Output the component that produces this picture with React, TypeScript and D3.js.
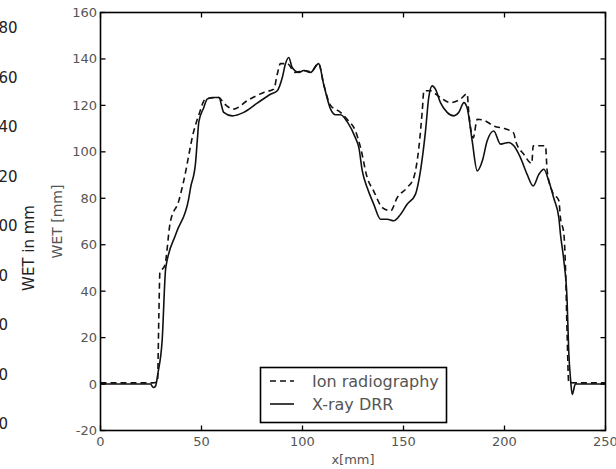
import React from "react";
import * as d3 from "d3";

// Water-equivalent thickness profiles along x
const xrayX = [0, 10, 20, 24.7, 26.2, 27.2, 28.5, 30.5, 32.3, 37.5, 43.7, 44.6, 47, 47.9, 48.7, 51.1, 52.8, 55.3, 58.6, 61, 65.2, 70.9, 77.6, 84.2, 87.5, 90, 91.6, 93.2, 94.9, 98.2, 100.6, 104, 108, 110.5, 113.9, 116.3, 118.8, 122.1, 126.2, 127.9, 129.6, 132, 135.3, 138.6, 141.9, 145.2, 148.5, 151.8, 155.9, 158.4, 160.9, 162.5, 164.2, 165.8, 168.3, 171.6, 174.9, 177.4, 179.9, 181.5, 184, 186.5, 189, 191.4, 194.7, 198, 202.1, 204.6, 207.9, 211.2, 214.2, 217, 219.5, 221.9, 224.4, 226.9, 227.7, 229.4, 231, 231.8, 232.7, 233.5, 235.1, 240, 250];
const xrayY = [0, 0, 0, 0, -1.5, -1, 5, 18.5, 50, 65, 80, 84.6, 94.8, 104.7, 113, 119, 122.7, 123.4, 123.4, 117, 115.5, 117, 121, 124.8, 126.3, 132, 138, 140.6, 136.3, 134.2, 135, 134.2, 138, 129, 118.4, 116, 116, 113, 106, 101.8, 91.8, 84.6, 77.4, 71, 71, 70.3, 73, 77.4, 81.7, 91.8, 109, 123.4, 128.4, 127, 121.2, 117, 115.5, 117, 121.2, 119, 104.7, 91.8, 96, 104.7, 109, 103.3, 104, 102.6, 97.5, 90.3, 85.3, 90.3, 92.5, 87.5, 80, 71.6, 64.6, 53, 35.8, 14, 2, -4.5, 0, 0, 0];

const ionX = [0, 10, 20, 25.7, 28.2, 28.9, 29.4, 31.8, 34.5, 38.8, 41.2, 46.2, 48.7, 52, 58.6, 61, 66, 72.6, 80.8, 85.8, 87.5, 89.1, 92.4, 96.5, 100.5, 104, 108, 110.5, 113.9, 118.8, 122.1, 126.2, 128.7, 132, 135.3, 139.5, 143.6, 146.9, 151.8, 155.1, 157.6, 159.3, 160.1, 163.4, 165.8, 168.3, 173.3, 178.2, 181.5, 182.3, 184.5, 186.5, 190, 195, 200, 204.6, 205.5, 209.5, 213.5, 214.2, 220.3, 221.1, 223.6, 226.9, 227.7, 229.4, 230.2, 231, 231.8, 240, 250];
const ionY = [0.5, 0.5, 0.5, 0.5, 1, 30, 48, 51, 69.5, 79, 87.5, 109, 116, 122.8, 123.4, 121, 118.4, 122, 125.6, 127, 133.4, 138, 138, 134.2, 135, 134.5, 138, 129, 120, 117, 114, 109, 102, 89, 83, 76, 74.6, 80.3, 84.6, 89, 101.8, 117.7, 126.3, 126.3, 125, 123.4, 121.2, 122.7, 125, 117, 106, 114, 113.5, 111, 110, 108, 104.7, 99, 95, 102.6, 102.6, 92, 83, 79, 71.6, 64.6, 50, 21.5, 0.6, 0.5, 0.5];

const xTicks = [0, 50, 100, 150, 200, 250];
const xTickLabels = ["0", "50", "100", "150", "200", "250"];
const yTicks = [-20, 0, 20, 40, 60, 80, 100, 120, 140, 160];
const yTickLabels = ["-20", "0", "20", "40", "60", "80", "100", "120", "140", "160"];

// Neighbouring panel's axis, partly cut off at the left edge
const sideTicks = [180, 160, 140, 120, 100, 80, 60, 40, 20];

const seriesNames = ["Ion radiography", "X-ray DRR"];

const FONT = "DejaVu Sans, sans-serif";

export default function App() {
  const W = 616;
  const H = 469;
  const left = 100.5, right = 605.5, top = 12.5, bottom = 430.5;

  const x = d3.scaleLinear().domain([0, 250]).range([left, right]);
  const y = d3.scaleLinear().domain([-20, 160]).range([bottom, top]);
  const ySide = d3.scaleLinear().domain([20, 180]).range([424, 28]);

  const line = d3
    .line<[number, number]>()
    .curve(d3.curveMonotoneX)
    .x((d) => x(d[0]))
    .y((d) => y(d[1]));

  const xray = line(xrayX.map((v, i) => [v, xrayY[i]] as [number, number])) || "";
  const ion = line(ionX.map((v, i) => [v, ionY[i]] as [number, number])) || "";

  const tickLen = 5;

  return (
    <svg
      width={W}
      height={H}
      style={{ position: "absolute", left: 0, top: 0, background: "#fff" }}
      fontFamily={FONT}
    >
      <rect width={W} height={H} fill="#fff" />

      {/* side panel remnants */}
      {sideTicks.map((t) => (
        <text key={t} x={-11} y={ySide(t)} fontSize={15} fill="#222" dominantBaseline="central">
          {t}
        </text>
      ))}
      <text
        transform="translate(29,248) rotate(-90)"
        textAnchor="middle"
        dominantBaseline="central"
        fontSize={15}
        fill="#222"
      >
        WET in mm
      </text>

      <defs>
        <clipPath id="plotClip">
          <rect x={left} y={top} width={right - left} height={bottom - top} />
        </clipPath>
      </defs>

      {/* curves */}
      <g clipPath="url(#plotClip)" fill="none">
        <path d={ion} stroke="#111" strokeWidth={1.6} strokeDasharray="6,4" />
        <path d={xray} stroke="#111" strokeWidth={1.6} />
      </g>

      {/* frame */}
      <rect x={left} y={top} width={right - left} height={bottom - top} fill="none" stroke="#000" strokeWidth={1.6} />

      {/* x ticks (inside, bottom and top) */}
      {xTicks.map((t, i) => (
        <g key={"x" + t}>
          <line x1={x(t)} x2={x(t)} y1={bottom} y2={bottom - tickLen} stroke="#000" strokeWidth={1.3} />
          <line x1={x(t)} x2={x(t)} y1={top} y2={top + tickLen} stroke="#000" strokeWidth={1.3} />
          <text x={x(t)} y={446} textAnchor="middle" fontSize={13} fill="#555">
            {xTickLabels[i]}
          </text>
        </g>
      ))}

      {/* y ticks (inside, left and right) */}
      {yTicks.map((t, i) => (
        <g key={"y" + t}>
          <line x1={left} x2={left + tickLen} y1={y(t)} y2={y(t)} stroke="#000" strokeWidth={1.3} />
          <line x1={right} x2={right - tickLen} y1={y(t)} y2={y(t)} stroke="#000" strokeWidth={1.3} />
          <text x={97} y={y(t)} textAnchor="end" dominantBaseline="central" fontSize={13} fill="#555">
            {yTickLabels[i]}
          </text>
        </g>
      ))}

      {/* axis titles */}
      <text x={(left + right) / 2} y={464} textAnchor="middle" fontSize={13} fill="#555">
        x[mm]
      </text>
      <text
        transform={`translate(57,${(top + bottom) / 2}) rotate(-90)`}
        textAnchor="middle"
        dominantBaseline="central"
        fontSize={14}
        fill="#555"
      >
        WET [mm]
      </text>

      {/* legend */}
      <g>
        <rect x={260.5} y={367.5} width={186} height={55} fill="#fff" stroke="#000" strokeWidth={1.6} />
        <line x1={270} x2={294} y1={381} y2={381} stroke="#111" strokeWidth={1.6} strokeDasharray="6,4" />
        <line x1={270} x2={294} y1={404} y2={404} stroke="#111" strokeWidth={1.6} />
        <text x={312} y={381} dominantBaseline="central" fontSize={16} fill="#555">
          {seriesNames[0]}
        </text>
        <text x={312} y={404} dominantBaseline="central" fontSize={16} fill="#555">
          {seriesNames[1]}
        </text>
      </g>
    </svg>
  );
}
